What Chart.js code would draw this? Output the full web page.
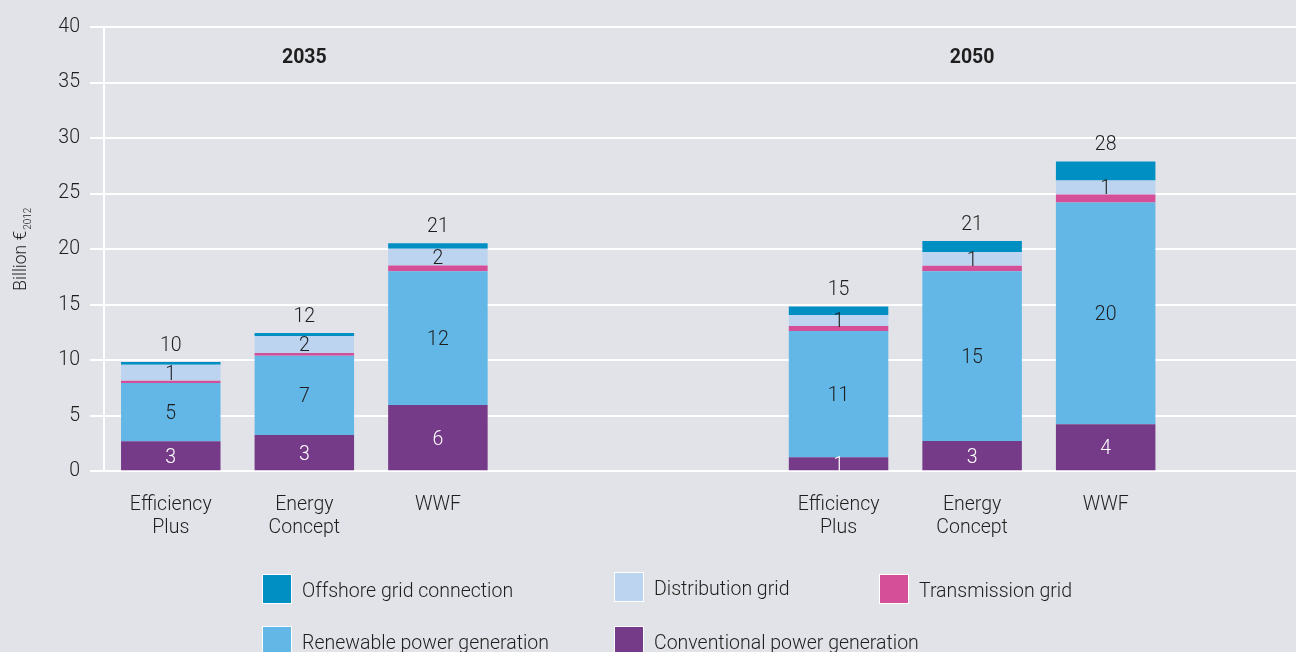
<!DOCTYPE html>
<html>
<head>
<meta charset="utf-8">
<script src="https://cdn.jsdelivr.net/npm/chart.js@4"></script>
<style>
  html, body { margin: 0; padding: 0; background: #e2e3e8; overflow: hidden; }
  #wrap { position: relative; width: 1306px; height: 652px; }
</style>
</head>
<body>
<div id="wrap"><canvas id="investChart"></canvas></div>
<script>
// categories (empty slots keep the gap between the two years)
var categories = [['Efficiency', 'Plus'], ['Energy', 'Concept'], 'WWF', '', '', ['Efficiency', 'Plus'], ['Energy', 'Concept'], 'WWF', ''];
var years = ['2035', '2050'];
var yearSlots = [1, 6];

// billion €2012
var conventional = [2.7, 3.26, 5.96, null, null, 1.26, 2.72, 4.23, null];
var renewable    = [5.25, 7.14, 12.05, null, null, 11.36, 15.29, 19.96, null];
var transmission = [0.2, 0.24, 0.51, null, null, 0.45, 0.49, 0.72, null];
var distribution = [1.45, 1.55, 1.52, null, null, 1.0, 1.25, 1.26, null];
var offshore     = [0.25, 0.27, 0.48, null, null, 0.76, 0.99, 1.71, null];

var yTicks = [0, 5, 10, 15, 20, 25, 30, 35, 40];

var FONT = 'Roboto, "Open Sans", sans-serif';
var INK = '#1e1e1e';

// numbers written inside segments and totals on top
const valueLabels = {
    id: 'valueLabels',
    afterDatasetsDraw(chart) {
        const ctx = chart.ctx;
        const y = chart.scales.y;
        ctx.save();
        ctx.font = '300 19.5px ' + FONT;
        ctx.textAlign = 'center';
        ctx.textBaseline = 'middle';
        chart.data.datasets.forEach((ds, i) => {
            if (!ds.labelColor) return;
            const meta = chart.getDatasetMeta(i);
            meta.data.forEach((bar, j) => {
                const v = ds.data[j];
                if (v == null) return;
                ctx.fillStyle = ds.labelColor;
                ctx.fillText(String(Math.round(v)), bar.x, (bar.y + bar.base) / 2 + 2);
            });
        });
        // totals
        const topMeta = chart.getDatasetMeta(chart.data.datasets.length - 1);
        chart.data.labels.forEach((lab, j) => {
            let sum = 0, has = false;
            chart.data.datasets.forEach(ds => {
                if (ds.data[j] != null) { sum += ds.data[j]; has = true; }
            });
            if (!has) return;
            ctx.fillStyle = INK;
            ctx.fillText(String(Math.round(sum)), topMeta.data[j].x, y.getPixelForValue(sum) - 16);
        });
        ctx.restore();
    }
};

// year headings, y axis title and the legend grid
const decorations = {
    id: 'decorations',
    afterDraw(chart) {
        const ctx = chart.ctx;
        const xs = chart.scales.x, ys = chart.scales.y;
        ctx.save();
        ctx.fillStyle = INK;
        ctx.textAlign = 'center';
        ctx.textBaseline = 'middle';
        ctx.font = 'bold 19.5px ' + FONT;
        years.forEach((yr, k) => {
            ctx.fillText(yr, xs.getPixelForValue(yearSlots[k]), ys.getPixelForValue(37.4) + 2);
        });

        // y title with subscript
        const midY = (chart.chartArea.top + chart.chartArea.bottom) / 2;
        ctx.save();
        ctx.translate(19, midY);
        ctx.rotate(-Math.PI / 2);
        ctx.textAlign = 'left';
        ctx.textBaseline = 'alphabetic';
        const main = 'Billion €';
        ctx.font = '300 17.5px ' + FONT;
        const w1 = ctx.measureText(main).width;
        ctx.font = '300 10px ' + FONT;
        const w2 = ctx.measureText('2012').width;
        const start = -(w1 + w2 + 1) / 2;
        ctx.font = '300 17.5px ' + FONT;
        ctx.fillText(main, start, 7);
        ctx.font = '300 10px ' + FONT;
        ctx.fillText('2012', start + w1 + 1, 12);
        ctx.restore();

        // legend
        const items = [
            { ds: 4, x: 263, y: 575 },
            { ds: 3, x: 615, y: 573 },
            { ds: 2, x: 880, y: 575 },
            { ds: 1, x: 263, y: 627 },
            { ds: 0, x: 615, y: 627 }
        ];
        ctx.font = '300 19.5px ' + FONT;
        ctx.textAlign = 'left';
        items.forEach(it => {
            const ds = chart.data.datasets[it.ds];
            ctx.fillStyle = '#ffffff';
            ctx.fillRect(it.x - 1, it.y - 1, 30, 30);
            ctx.fillStyle = ds.backgroundColor;
            ctx.fillRect(it.x, it.y, 28, 28);
            ctx.fillStyle = INK;
            ctx.fillText(ds.label, it.x + 39, it.y + 17);
        });
        ctx.restore();
    }
};

const ctx = document.getElementById('investChart').getContext('2d');
new Chart(ctx, {
    type: 'bar',
    data: {
        labels: categories,
        datasets: [
            { label: 'Conventional power generation', data: conventional, backgroundColor: '#763b88', labelColor: '#ffffff' },
            { label: 'Renewable power generation', data: renewable, backgroundColor: '#62b7e7', labelColor: INK },
            { label: 'Transmission grid', data: transmission, backgroundColor: '#d44f97' },
            { label: 'Distribution grid', data: distribution, backgroundColor: '#bcd4ef', labelColor: INK },
            { label: 'Offshore grid connection', data: offshore, backgroundColor: '#008fc3' }
        ]
    },
    options: {
        responsive: true,
        maintainAspectRatio: false,
        animation: false,
        layout: { padding: { top: 27, left: 0, right: 0, bottom: 0 } },
        datasets: { bar: { categoryPercentage: 1, barPercentage: 0.745, borderWidth: 0 } },
        plugins: { legend: { display: false }, tooltip: { enabled: false } },
        scales: {
            x: {
                stacked: true,
                grid: { display: false, drawTicks: false },
                border: { display: false },
                ticks: { color: INK, font: { family: FONT, size: 19.5, weight: 300, lineHeight: 1.2 }, padding: 22, maxRotation: 0, autoSkip: false },
                afterFit(scale) { scale.height = 180.7; }
            },
            y: {
                stacked: true,
                min: 0,
                max: 40,
                afterBuildTicks(scale) { scale.ticks = yTicks.map(v => ({ value: v })); },
                grid: { color: '#ffffff', lineWidth: 2, tickLength: 14 },
                border: { display: true, color: '#ffffff', width: 2 },
                ticks: { color: INK, font: { family: FONT, size: 19.5, weight: 300 }, padding: 10 },
                afterFit(scale) { scale.width = 104; }
            }
        }
    },
    plugins: [valueLabels, decorations]
});
</script>
</body>
</html>
